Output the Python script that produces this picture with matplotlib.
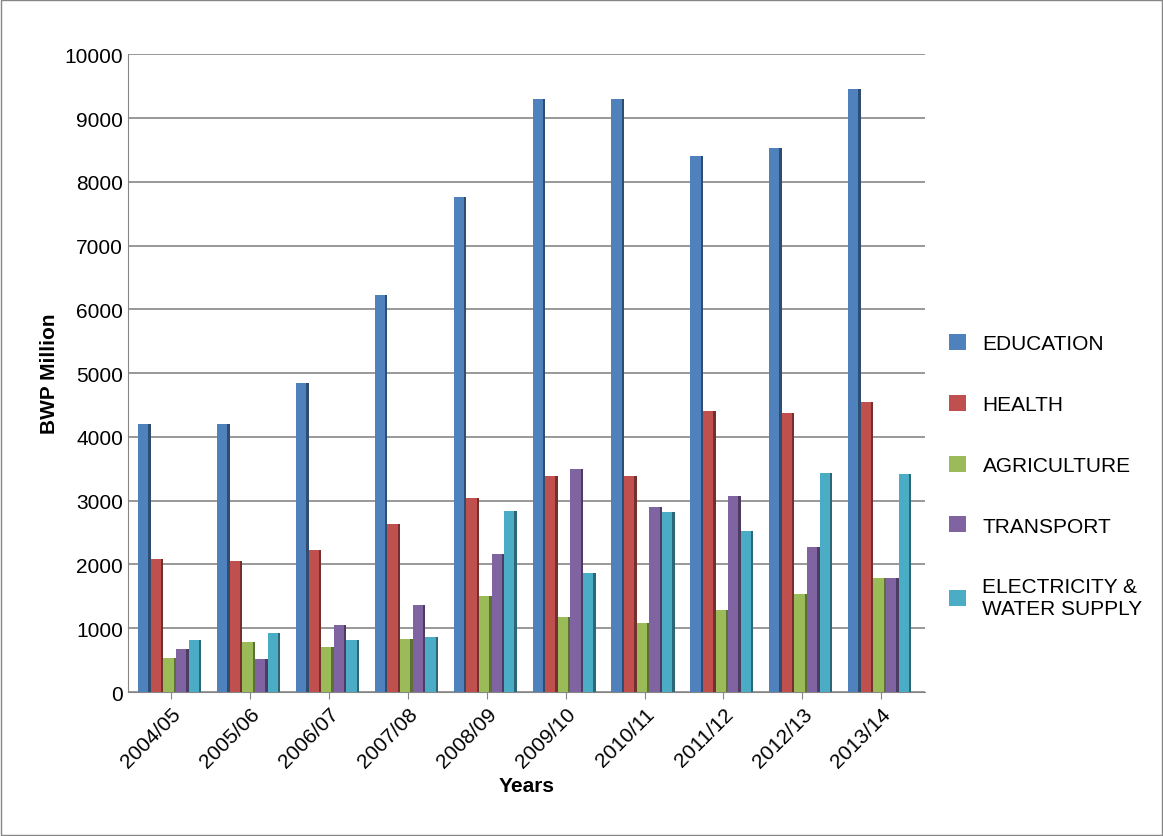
import numpy as np
import matplotlib.pyplot as plt
import matplotlib.colors as mcolors

plt.rcParams['font.family'] = ['Liberation Sans', 'DejaVu Sans']

years = ["2004/05", "2005/06", "2006/07", "2007/08", "2008/09",
         "2009/10", "2010/11", "2011/12", "2012/13", "2013/14"]
education = [4200, 4200, 4850, 6230, 7760, 9300, 9300, 8400, 8530, 9460]
health = [2080, 2060, 2230, 2640, 3050, 3380, 3390, 4400, 4370, 4540]
agriculture = [530, 780, 710, 830, 1500, 1180, 1090, 1280, 1540, 1790]
transport = [680, 520, 1050, 1370, 2160, 3490, 2900, 3070, 2270, 1790]
electricity = [810, 920, 820, 860, 2840, 1860, 2820, 2520, 3440, 3420]

series = [("EDUCATION", education, "#4f81bd"),
          ("HEALTH", health, "#c0504d"),
          ("AGRICULTURE", agriculture, "#9bbb59"),
          ("TRANSPORT", transport, "#8064a2"),
          ("ELECTRICITY &\nWATER SUPPLY", electricity, "#4bacc6")]

fig = plt.figure(figsize=(11.63, 8.37), dpi=100)
ax = fig.add_axes([0.11, 0.172, 0.685, 0.762])

x = np.arange(len(years))
w = 0.16
depth = 0.03
handles = []
for i, (name, vals, col) in enumerate(series):
    pos = x - 2 * w + i * w - 0.02
    dark = np.array(mcolors.to_rgb(col)) * 0.6
    # side face to fake the 3D look
    ax.bar(pos + w / 2 - depth / 2, vals, width=depth, color=dark, zorder=2)
    h = ax.bar(pos - depth / 2, vals, width=w - depth, color=col, zorder=3)
    handles.append(h)

ax.set_xlim(-0.55, 9.55)
ax.set_ylim(0, 10000)
ax.set_yticks(range(0, 10001, 1000))
ax.yaxis.grid(True, color="#868686", linewidth=1.2, zorder=0)
ax.set_xticks(x)
ax.set_xticklabels(years, rotation=45, ha="right", rotation_mode="anchor", fontsize=15)
ax.tick_params(axis="y", labelsize=15, length=0)
ax.tick_params(axis="x", length=5, color="#868686")
for s in ["top", "right"]:
    ax.spines[s].set_visible(False)
ax.spines["left"].set_color("#868686")
ax.spines["bottom"].set_color("#868686")
ax.set_ylabel("BWP Million", fontsize=15, fontweight="bold")
ax.set_xlabel("Years", fontsize=15, fontweight="bold", labelpad=4)

fig.legend(handles, [s[0] for s in series], loc="center left",
           bbox_to_anchor=(0.8, 0.43), frameon=False, fontsize=15,
           handlelength=0.8, handleheight=0.8, labelspacing=2.0, handletextpad=0.8)

fig.patches.append(plt.Rectangle((0.001, 0.001), 0.998, 0.998, transform=fig.transFigure,
                                 fill=False, edgecolor="#868686", linewidth=1))
fig.savefig("out.png")
